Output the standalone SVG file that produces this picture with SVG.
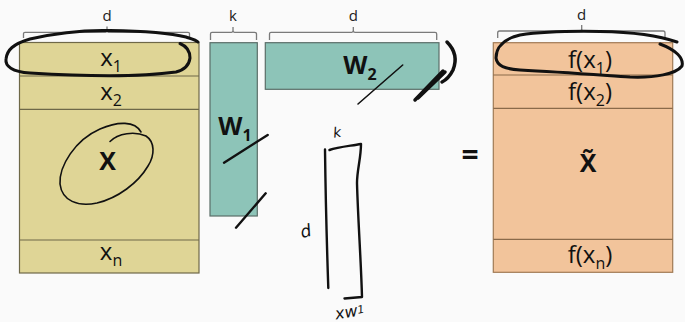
<svg xmlns="http://www.w3.org/2000/svg" width="685" height="322" viewBox="0 0 685 322">
<style>
.bg{fill:#fafafa}
.mx{fill:#dfd596;stroke:#6e6848;stroke-width:1.2}
.rowx{stroke:#6e6848;stroke-width:1.2}
.mw{fill:#8dc4b8;stroke:#5a6e68;stroke-width:1.2}
.mf{fill:#f2c49b;stroke:#a07a55;stroke-width:1.2}
.rowf{stroke:#8a6a4a;stroke-width:1.2}
.brace{fill:none;stroke:#7a7a7a;stroke-width:1.3}
.dim{font-family:"Open Sans","Noto Sans",sans-serif;font-size:15px;fill:#222;text-anchor:middle}
.lbl{font-family:"Open Sans","Noto Sans",sans-serif;font-size:24px;fill:#111;text-anchor:middle}
.sub{font-size:16px}
.big{font-family:"Open Sans","Noto Sans",sans-serif;font-size:25px;font-weight:bold;fill:#111;text-anchor:middle}
.ink{fill:none;stroke:#111;stroke-linecap:round;stroke-linejoin:round}
.hand{font-family:"DejaVu Sans",sans-serif;fill:#111;font-style:italic}
</style>
<rect class="bg" x="0" y="0" width="685" height="322"/>

<g id="matrix-X">
<rect class="mx" x="19.5" y="42.5" width="179.5" height="230.5"/>
<line class="rowx" x1="19.5" y1="76" x2="199" y2="76"/>
<line class="rowx" x1="19.5" y1="109.3" x2="199" y2="109.3"/>
<line class="rowx" x1="19.5" y1="240" x2="199" y2="240"/>
<path class="brace" d="M23.5 38 V33.5 Q23.5 32.3 25 32.3 H105.5 Q107 32.3 107 30.5 V26.5 M107 30.5 Q107 32.3 108.5 32.3 H188 Q189.5 32.3 189.5 33.5 V38"/>
<text class="dim" x="107" y="20.5">d</text>
<text class="lbl" x="111" y="66">x<tspan class="sub" dy="6">1</tspan></text>
<text class="lbl" x="111" y="99.5">x<tspan class="sub" dy="6">2</tspan></text>
<text class="big" x="107.5" y="169.5">X</text>
<text class="lbl" x="111" y="260">x<tspan class="sub" dy="6">n</tspan></text>
</g>

<g id="matrix-W1">
<rect class="mw" x="210" y="42.7" width="47.3" height="173.3"/>
<path class="brace" d="M210.5 40 V34 Q210.5 32.3 212 32.3 H231.5 Q233 32.3 233 30.5 V27 M233 30.5 Q233 32.3 234.5 32.3 H254.5 Q256.5 32.3 256.5 34 V40"/>
<text class="dim" x="233" y="20.5">k</text>
<text class="big" x="235" y="135">W<tspan class="sub" dy="5.5">1</tspan></text>
</g>

<g id="matrix-W2">
<rect class="mw" x="265.3" y="42.7" width="173.7" height="46.6"/>
<path class="brace" d="M269.5 40 V34 Q269.5 32.3 271 32.3 H351.8 Q353.3 32.3 353.3 30.5 V27 M353.3 30.5 Q353.3 32.3 354.8 32.3 H435 Q436.7 32.3 436.7 34 V40"/>
<text class="dim" x="353.3" y="20.5">d</text>
<text class="big" x="360" y="74">W<tspan class="sub" dy="5.5">2</tspan></text>
</g>

<g id="equals">
<text class="big" x="470" y="165" style="font-size:30px">=</text>
</g>

<g id="matrix-fX">
<rect class="mf" x="493.3" y="42.7" width="179.4" height="229.6"/>
<line class="rowf" x1="493.3" y1="75" x2="672.7" y2="75"/>
<line class="rowf" x1="493.3" y1="108.3" x2="672.7" y2="108.3"/>
<line class="rowf" x1="493.3" y1="239.3" x2="672.7" y2="239.3"/>
<path class="brace" d="M497.7 38 V33 Q497.7 31 499.5 31 H580 Q581.7 31 581.7 29 V25 M581.7 29 Q581.7 31 583.4 31 H663.2 Q665 31 665 33 V38"/>
<text class="dim" x="581.7" y="19.5">d</text>
<text class="lbl" x="590" y="68">f(x<tspan class="sub" dy="5.5">1</tspan><tspan dy="-5.5">)</tspan></text>
<text class="lbl" x="590" y="100">f(x<tspan class="sub" dy="5.5">2</tspan><tspan dy="-5.5">)</tspan></text>
<text class="big" x="588" y="172">X̃</text>
<text class="lbl" x="590" y="263">f(x<tspan class="sub" dy="5.5">n</tspan><tspan dy="-5.5">)</tspan></text>
</g>

<g id="annotations">
<path class="ink" stroke-width="3" d="M180 43.5 C186 46 190 51 190 58 C189 66 184 70 176 72 C140 77 80 76 30 73 C12 72 5 66 6 59 C7 50 13 44 30 39 C60 32 90 30 110 30.5 C140 31 170 33 186 37 C192 39 196 40 198 42"/>
<path class="ink" stroke-width="3" d="M677 42 C660 36 630 32 600 31.5 C570 31 540 32 520 35 C503 39 496 48 496 58 C497 66 505 69 520 70 C560 72 600 75 630 77 C655 78 676 74 682 66 C684 58 676 50 660 44"/>
<path class="ink" stroke-width="1.6" d="M110 141.5 C118 133 135 131 146 136 C155 142 155 155 148 166 C138 183 118 198 97 203 C78 207 62 201 60 184 C59 166 75 140 100 129 C118 121 135 121 141 132"/>
<path class="ink" stroke-width="1.6" d="M358 104 L402.7 65"/>
<path class="ink" stroke-width="3.5" d="M415 100 L443 71 M418 98 L445 72"/>
<path class="ink" stroke-width="3.5" d="M447 42 C455 50 457 60 453 70 C450 76 446 80 442 82"/>
<path class="ink" stroke-width="2.4" d="M224 162.7 L267.7 135"/>
<path class="ink" stroke-width="2.4" d="M236 227.7 L265.7 193.3"/>
<path class="ink" stroke-width="2.4" d="M325 149.5 C325.5 190 327 250 328.3 288"/>
<path class="ink" stroke-width="2.4" d="M329.5 150 C338 147 350 146 361 144 C361 158 357 170 357 183 C358 220 361 260 362 297 C356 297.5 350 298 344.5 298.5"/>
<text class="hand" x="333" y="137" font-size="14" transform="rotate(-8 338 132)">k</text>
<text class="hand" x="300" y="237" font-size="17" transform="rotate(-15 306 230)">d</text>
<text class="hand" x="335" y="317" font-size="16" transform="rotate(-10 350 312)">xw<tspan font-size="11" dy="-2">1</tspan></text>
</g>
</svg>
